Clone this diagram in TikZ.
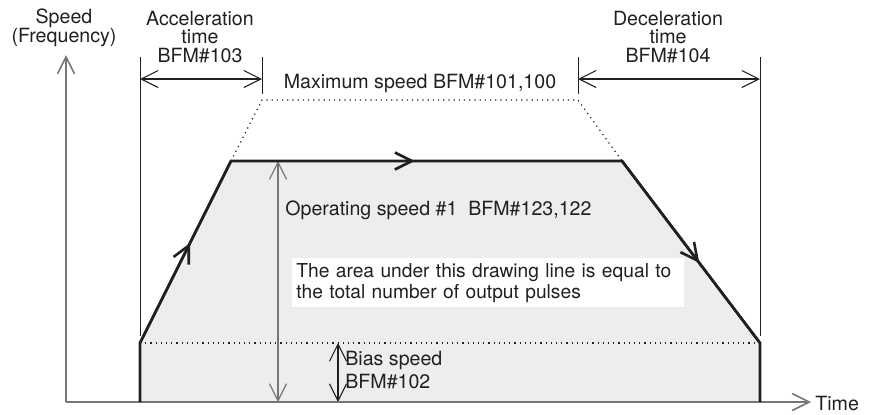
\documentclass[tikz,border=0pt]{standalone}
\usepackage{fontspec}
\setmainfont{TeX Gyre Heros}
\usetikzlibrary{arrows.meta, decorations.markings}

\definecolor{ink}{HTML}{231F20}
\definecolor{axisgray}{HTML}{7A7574}
\definecolor{areafill}{HTML}{ECEEED}

\tikzset{
  >={Straight Barb[length=8.5pt,width=8.5pt]},
  dimline/.style={ink, line width=0.55pt, <->},
  extline/.style={ink, line width=0.5pt},
  axisline/.style={axisgray, line width=0.8pt, ->},
  profile/.style={ink, line width=1.3pt, line join=miter},
  flow/.style={postaction={decorate}, decoration={markings, mark=at position #1 with {\arrow{>}}}},
  lbl/.style={font=\fontsize{9.8}{9.3}\selectfont, inner sep=0pt, text=ink},
}

\begin{document}
\begin{tikzpicture}[x=0.5pt, y=-0.5pt]
  \useasboundingbox (0,0) rectangle (871,414);
  % points of the speed profile
  \coordinate (O) at (66,402);
  \coordinate (Ytip) at (66,55);
  \coordinate (Xtip) at (811,402);
  \coordinate (B0) at (140,402);
  \coordinate (B1) at (140,343);
  \coordinate (A) at (231,161);
  \coordinate (D) at (622,161);
  \coordinate (E1) at (760,343);
  \coordinate (E0) at (760,402);
  \coordinate (Pa) at (262,100);
  \coordinate (Pd) at (578,100);

  \fill[areafill] (B0) -- (B1) -- (A) -- (D) -- (E1) -- (E0) -- cycle;
  \draw[ink, dotted, line width=0.6pt] (B1) -- (E1);
  \draw[ink, dotted, line width=0.6pt] (A) -- (Pa) -- (Pd) -- (D);

  % extension lines and times
  \draw[extline] (140,57) -- (140,336);
  \draw[extline] (262,57) -- (262,94);
  \draw[extline] (578,57) -- (578,94);
  \draw[extline] (760,57) -- (760,336);
  \draw[dimline] (140,79) -- (262,79);
  \draw[dimline] (578,79) -- (760,79);

  % speeds
  \draw[axisgray, line width=0.6pt, <->] (278,161) -- (278,402);
  \draw[dimline] (338,343) -- (338,402);

  % axes
  \draw[axisline] (O) -- (Ytip);
  \draw[axisline] (O) -- (Xtip);

  % profile
  \draw[profile] (B0) -- (B1) -- (A) -- (D) -- (E1) -- (E0);
  \draw[profile, flow=0.55] (B1) -- (A);
  \draw[profile, flow=0.47] (A) -- (D);
  \draw[profile, flow=0.56] (D) -- (E1);

  % labels
  \node[lbl, align=center] (speedlbl) at (64,28) {Speed\\(Frequency)};
  \node[lbl, align=center] (acclbl) at (200,37) {Acceleration\\time\\BFM\#103};
  \node[lbl, align=center] (declbl) at (668,37) {Deceleration\\time\\BFM\#104};
  \node[lbl] (maxlbl) at (420,83) {Maximum speed BFM\#101,100};
  \node[lbl, anchor=west] (oplbl) at (285,210) {Operating speed \#1\ \ BFM\#123,122};
  \node[lbl, fill=white, anchor=north west, text width=192pt, inner xsep=2pt,
        inner ysep=0pt, minimum height=24.5pt, align=left, font=\fontsize{9.6}{10.4}\selectfont]
        (arealbl) at (292,258) {The area under this drawing line is equal to\\the total number of output pulses};
  \node[lbl, anchor=west, align=left, font=\fontsize{9.8}{11.5}\selectfont] (biaslbl) at (345,370) {Bias speed\\BFM\#102};
  \node[lbl, anchor=west] (timelbl) at (815,403) {Time};
\end{tikzpicture}
\end{document}
